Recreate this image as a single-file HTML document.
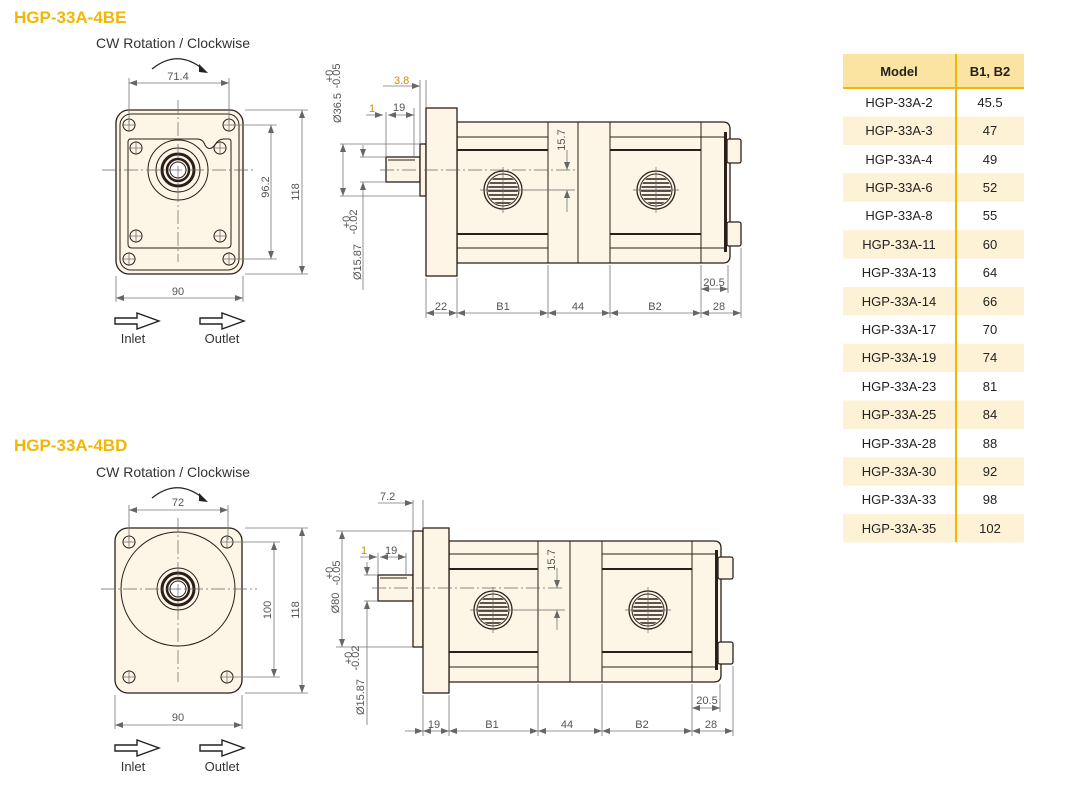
<!DOCTYPE html>
<html><head><meta charset="utf-8"><style>
html,body{margin:0;padding:0;background:#fff}
svg{display:block}
text{font-family:"Liberation Sans",sans-serif}
.d{fill:#555;font-size:11px}
.o{fill:#d08a00;font-size:11px}
.ln{stroke:#777;stroke-width:.8;fill:none}
.k{stroke:#2a1f1a;stroke-width:1.3;fill:#fdf6e6}
.kl{stroke:#2a1f1a;stroke-width:1;fill:none}
.c{stroke:#666;stroke-width:.7;fill:none}
.cd{stroke:#666;stroke-width:.7;fill:none;stroke-dasharray:14 3 2 3}
.tt{fill:#f2b705;font-weight:bold;font-size:17px}
</style></head><body>
<svg width="1068" height="792" viewBox="0 0 1068 792" xmlns="http://www.w3.org/2000/svg">
<defs>
<marker id="a" markerWidth="8" markerHeight="6" refX="8" refY="3" orient="auto-start-reverse" markerUnits="userSpaceOnUse"><path d="M0,0 L8,3 L0,6 z" fill="#666"/></marker>
<clipPath id="pc"><circle r="15"/></clipPath>
<g id="port">
<circle r="19" fill="#fdf6e6" stroke="#2a1f1a" stroke-width="1.3"/>
<circle r="16" fill="none" stroke="#2a1f1a" stroke-width="1"/>
<g clip-path="url(#pc)" stroke="#2a1f1a" stroke-width="1.4">
<line x1="-16" x2="16" y1="-11" y2="-11"/><line x1="-16" x2="16" y1="-7" y2="-7"/><line x1="-16" x2="16" y1="-3" y2="-3"/><line x1="-16" x2="16" y1="1" y2="1"/><line x1="-16" x2="16" y1="5" y2="5"/><line x1="-16" x2="16" y1="9" y2="9"/><line x1="-16" x2="16" y1="13" y2="13"/>
</g>
<line x1="-23" x2="23" class="c"/><line y1="-23" y2="23" class="c"/>
</g>
<g id="hole"><circle r="6" class="kl" fill="#fdf6e6"/><line x1="-7" x2="7" class="c"/><line y1="-7" y2="7" class="c"/></g>
<g id="arr"><path d="M0,-3 L22,-3 L22,-8 L44,0 L22,8 L22,3 L0,3 z" fill="#fff" stroke="#222" stroke-width="1.4"/></g>
</defs>

<text x="14" y="23" class="tt">HGP-33A-4BE</text>
<text x="14" y="451" class="tt">HGP-33A-4BD</text>
<text x="96" y="48" font-size="14" fill="#333">CW Rotation / Clockwise</text>
<text x="96" y="477" font-size="14" fill="#333">CW Rotation / Clockwise</text>
<path d="M152,69 Q178,48 204,70" fill="none" stroke="#222" stroke-width="1.3"/><path d="M199,64 L208,73 L199,72z" fill="#222"/>
<path d="M152,498 Q178,477 204,499" fill="none" stroke="#222" stroke-width="1.3"/><path d="M199,493 L208,502 L199,501z" fill="#222"/>

<!-- TOP FRONT -->
<rect x="116" y="110" width="127" height="164" rx="13" class="k"/>
<rect x="120" y="114" width="119" height="156" rx="11" class="kl"/>
<path d="M129,139 L197,139 Q203,139 205,145 Q209,152 215,145 Q218,139 224,139 L229,139 Q231,139 231,142 L231,244 Q231,248 227,248 L132,248 Q128,248 128,244 L128,142 Q128,139 131,139 z" class="kl"/>
<circle cx="178" cy="170" r="30" class="kl"/>
<circle cx="178" cy="170" r="22" class="kl" fill="#fdf6e6"/>
<circle cx="178" cy="170" r="16" fill="none" stroke="#2a1f1a" stroke-width="3"/>
<circle cx="178" cy="170" r="11" fill="none" stroke="#2a1f1a" stroke-width="2.5"/>
<circle cx="178" cy="170" r="8" fill="#fff" stroke="#2a1f1a" stroke-width="1"/>
<use href="#hole" x="129" y="125"/><use href="#hole" x="229" y="125"/><use href="#hole" x="129" y="259"/><use href="#hole" x="229" y="259"/>
<use href="#hole" x="136" y="148"/><use href="#hole" x="220" y="148"/><use href="#hole" x="136" y="236"/><use href="#hole" x="220" y="236"/>
<line x1="102" y1="170" x2="256" y2="170" class="cd"/><line x1="178" y1="100" x2="178" y2="262" class="cd"/>
<line x1="129" y1="78" x2="129" y2="123" class="ln"/><line x1="229" y1="78" x2="229" y2="123" class="ln"/>
<line x1="129" y1="83" x2="229" y2="83" class="ln" marker-start="url(#a)" marker-end="url(#a)"/>
<text x="178" y="80" class="d" text-anchor="middle">71.4</text>
<line x1="231" y1="125" x2="277" y2="125" class="ln"/><line x1="231" y1="259" x2="277" y2="259" class="ln"/>
<line x1="271" y1="125" x2="271" y2="259" class="ln" marker-start="url(#a)" marker-end="url(#a)"/>
<text transform="translate(269,187) rotate(-90)" class="d" text-anchor="middle">96.2</text>
<line x1="245" y1="110" x2="308" y2="110" class="ln"/><line x1="245" y1="274" x2="308" y2="274" class="ln"/>
<line x1="302" y1="110" x2="302" y2="274" class="ln" marker-start="url(#a)" marker-end="url(#a)"/>
<text transform="translate(299,192) rotate(-90)" class="d" text-anchor="middle">118</text>
<line x1="116" y1="276" x2="116" y2="302" class="ln"/><line x1="243" y1="276" x2="243" y2="302" class="ln"/>
<line x1="116" y1="298" x2="243" y2="298" class="ln" marker-start="url(#a)" marker-end="url(#a)"/>
<text x="178" y="295" class="d" text-anchor="middle">90</text>
<use href="#arr" x="115" y="321"/><use href="#arr" x="200" y="321"/>
<text x="133" y="343" font-size="13" fill="#333" text-anchor="middle">Inlet</text>
<text x="222" y="343" font-size="13" fill="#333" text-anchor="middle">Outlet</text>

<!-- TOP SIDE -->
<rect x="386" y="157" width="34" height="25" class="k"/>
<line x1="388" y1="160" x2="415" y2="160" class="kl"/>
<rect x="420" y="144" width="6" height="52" class="k"/>
<path d="M457,122 L723,122 Q730,122 730,129 L730,256 Q730,263 723,263 L457,263 z" class="k"/>
<rect x="426" y="108" width="31" height="168" class="k" stroke-width="1.6"/>
<g class="kl">
<line x1="548" y1="122" x2="548" y2="263"/><line x1="578" y1="122" x2="578" y2="263"/><line x1="610" y1="122" x2="610" y2="263"/><line x1="701" y1="122" x2="701" y2="263"/>
<line x1="457" y1="137" x2="548" y2="137"/><line x1="457" y1="150" x2="548" y2="150" stroke-width="2"/><line x1="457" y1="234" x2="548" y2="234" stroke-width="2"/><line x1="457" y1="248" x2="548" y2="248"/>
<line x1="610" y1="137" x2="701" y2="137"/><line x1="610" y1="150" x2="701" y2="150" stroke-width="2"/><line x1="610" y1="234" x2="701" y2="234" stroke-width="2"/><line x1="610" y1="248" x2="701" y2="248"/>
<line x1="701" y1="137" x2="726" y2="137"/><line x1="701" y1="248" x2="726" y2="248"/>
</g>
<rect x="724" y="132" width="3" height="120" fill="#2a1f1a"/>
<rect x="727" y="139" width="14" height="24" rx="2" class="k"/><rect x="727" y="222" width="14" height="24" rx="2" class="k"/>
<line x1="380" y1="170" x2="575" y2="170" class="cd"/>
<use href="#port" x="503" y="190"/><use href="#port" x="656" y="190"/>
<line x1="525" y1="190" x2="575" y2="190" class="c"/>
<line x1="567" y1="150" x2="567" y2="170" class="ln" marker-end="url(#a)"/><line x1="567" y1="212" x2="567" y2="190" class="ln" marker-end="url(#a)"/>
<text transform="translate(565,140) rotate(-90)" class="d" text-anchor="middle">15.7</text>
<line x1="420" y1="80" x2="420" y2="144" class="ln"/><line x1="426" y1="80" x2="426" y2="108" class="ln"/>
<line x1="383" y1="86" x2="420" y2="86" class="ln" marker-end="url(#a)"/>
<text x="394" y="84" class="o">3.8</text>
<line x1="386" y1="112" x2="386" y2="157" class="ln"/><line x1="414" y1="108" x2="414" y2="157" class="ln"/>
<line x1="366" y1="115" x2="383" y2="115" class="ln" marker-end="url(#a)"/><line x1="388" y1="115" x2="414" y2="115" class="ln" marker-start="url(#a)" marker-end="url(#a)"/>
<text x="369" y="112" class="o">1</text><text x="393" y="111" class="d" fill="#55a">19</text>
<line x1="340" y1="144" x2="420" y2="144" class="ln"/><line x1="340" y1="196" x2="420" y2="196" class="ln"/>
<line x1="343" y1="144" x2="343" y2="196" class="ln" marker-start="url(#a)" marker-end="url(#a)"/>
<text transform="translate(341,108) rotate(-90)" class="d" font-size="12" text-anchor="middle">Ø36.5</text>
<text transform="translate(333,76) rotate(-90)" class="d" font-size="8" text-anchor="middle">+0</text>
<text transform="translate(340,76) rotate(-90)" class="d" font-size="8" text-anchor="middle">-0.05</text>
<line x1="360" y1="157" x2="386" y2="157" class="ln"/><line x1="360" y1="182" x2="386" y2="182" class="ln"/>
<line x1="363" y1="145" x2="363" y2="157" class="ln" marker-end="url(#a)"/><line x1="363" y1="290" x2="363" y2="182" class="ln" marker-end="url(#a)"/>
<text transform="translate(361,262) rotate(-90)" class="d" font-size="12" text-anchor="middle">Ø15.87</text>
<text transform="translate(350,222) rotate(-90)" class="d" font-size="8" text-anchor="middle">+0</text>
<text transform="translate(357,222) rotate(-90)" class="d" font-size="8" text-anchor="middle">-0.02</text>
<g class="ln"><line x1="426" y1="278" x2="426" y2="318"/><line x1="457" y1="278" x2="457" y2="318"/><line x1="548" y1="265" x2="548" y2="318"/><line x1="610" y1="265" x2="610" y2="318"/><line x1="701" y1="265" x2="701" y2="318"/><line x1="741" y1="248" x2="741" y2="318"/><line x1="728" y1="265" x2="728" y2="293"/></g>
<g class="ln" marker-start="url(#a)" marker-end="url(#a)"><line x1="426" y1="313" x2="457" y2="313"/><line x1="457" y1="313" x2="548" y2="313"/><line x1="548" y1="313" x2="610" y2="313"/><line x1="610" y1="313" x2="701" y2="313"/><line x1="701" y1="313" x2="741" y2="313"/><line x1="701" y1="289" x2="728" y2="289"/></g>
<text x="441" y="310" class="d" text-anchor="middle">22</text><text x="503" y="310" class="d" text-anchor="middle">B1</text><text x="578" y="310" class="d" text-anchor="middle">44</text><text x="655" y="310" class="d" text-anchor="middle">B2</text><text x="719" y="310" class="d" text-anchor="middle">28</text><text x="714" y="286" class="d" text-anchor="middle">20.5</text>

<!-- BOTTOM FRONT -->
<rect x="115" y="528" width="127" height="165" rx="13" class="k"/>
<circle cx="178" cy="589" r="57" class="kl"/>
<circle cx="178" cy="589" r="21" class="kl"/>
<circle cx="178" cy="589" r="16" fill="none" stroke="#2a1f1a" stroke-width="3"/>
<circle cx="178" cy="589" r="11" fill="none" stroke="#2a1f1a" stroke-width="2.5"/>
<circle cx="178" cy="589" r="8" fill="#fff" stroke="#2a1f1a" stroke-width="1"/>
<use href="#hole" x="129" y="542"/><use href="#hole" x="227" y="542"/><use href="#hole" x="129" y="677"/><use href="#hole" x="227" y="677"/>
<line x1="101" y1="589" x2="257" y2="589" class="cd"/><line x1="178" y1="518" x2="178" y2="682" class="cd"/>
<line x1="129" y1="505" x2="129" y2="540" class="ln"/><line x1="228" y1="505" x2="228" y2="540" class="ln"/>
<line x1="129" y1="510" x2="228" y2="510" class="ln" marker-start="url(#a)" marker-end="url(#a)"/>
<text x="178" y="506" class="d" text-anchor="middle">72</text>
<line x1="232" y1="542" x2="280" y2="542" class="ln"/><line x1="232" y1="677" x2="280" y2="677" class="ln"/>
<line x1="274" y1="542" x2="274" y2="677" class="ln" marker-start="url(#a)" marker-end="url(#a)"/>
<text transform="translate(271,610) rotate(-90)" class="d" text-anchor="middle">100</text>
<line x1="245" y1="528" x2="308" y2="528" class="ln"/><line x1="245" y1="693" x2="308" y2="693" class="ln"/>
<line x1="302" y1="528" x2="302" y2="693" class="ln" marker-start="url(#a)" marker-end="url(#a)"/>
<text transform="translate(299,610) rotate(-90)" class="d" text-anchor="middle">118</text>
<line x1="115" y1="695" x2="115" y2="729" class="ln"/><line x1="242" y1="695" x2="242" y2="729" class="ln"/>
<line x1="115" y1="725" x2="242" y2="725" class="ln" marker-start="url(#a)" marker-end="url(#a)"/>
<text x="178" y="721" class="d" text-anchor="middle">90</text>
<use href="#arr" x="115" y="748"/><use href="#arr" x="200" y="748"/>
<text x="133" y="771" font-size="13" fill="#333" text-anchor="middle">Inlet</text>
<text x="222" y="771" font-size="13" fill="#333" text-anchor="middle">Outlet</text>

<!-- BOTTOM SIDE -->
<rect x="378" y="575" width="35" height="26" class="k"/>
<line x1="380" y1="578" x2="407" y2="578" class="kl"/>
<rect x="413" y="531" width="10" height="116" class="k"/>
<path d="M449,541 L714,541 Q721,541 721,548 L721,675 Q721,682 714,682 L449,682 z" class="k"/>
<rect x="423" y="528" width="26" height="165" class="k" stroke-width="1.6"/>
<g class="kl">
<line x1="538" y1="541" x2="538" y2="682"/><line x1="570" y1="541" x2="570" y2="682"/><line x1="602" y1="541" x2="602" y2="682"/><line x1="692" y1="541" x2="692" y2="682"/>
<line x1="449" y1="554" x2="538" y2="554"/><line x1="449" y1="569" x2="538" y2="569" stroke-width="2"/><line x1="449" y1="652" x2="538" y2="652" stroke-width="2"/><line x1="449" y1="667" x2="538" y2="667"/>
<line x1="602" y1="554" x2="692" y2="554"/><line x1="602" y1="569" x2="692" y2="569" stroke-width="2"/><line x1="602" y1="652" x2="692" y2="652" stroke-width="2"/><line x1="602" y1="667" x2="692" y2="667"/>
<line x1="692" y1="554" x2="716" y2="554"/><line x1="692" y1="667" x2="716" y2="667"/>
</g>
<rect x="715" y="550" width="3" height="120" fill="#2a1f1a"/>
<rect x="718" y="557" width="15" height="22" rx="2" class="k"/><rect x="718" y="642" width="15" height="22" rx="2" class="k"/>
<line x1="372" y1="588" x2="565" y2="588" class="cd"/>
<use href="#port" x="493" y="610"/><use href="#port" x="648" y="610"/>
<line x1="515" y1="610" x2="565" y2="610" class="c"/>
<line x1="557" y1="568" x2="557" y2="588" class="ln" marker-end="url(#a)"/><line x1="557" y1="630" x2="557" y2="610" class="ln" marker-end="url(#a)"/>
<text transform="translate(555,560) rotate(-90)" class="d" text-anchor="middle">15.7</text>
<line x1="413" y1="500" x2="413" y2="531" class="ln"/><line x1="423" y1="500" x2="423" y2="528" class="ln"/>
<line x1="378" y1="503" x2="413" y2="503" class="ln" marker-end="url(#a)"/>
<text x="380" y="500" class="d">7.2</text>
<line x1="378" y1="553" x2="378" y2="575" class="ln"/><line x1="406" y1="553" x2="406" y2="575" class="ln"/>
<line x1="360" y1="557" x2="377" y2="557" class="ln" marker-end="url(#a)"/><line x1="380" y1="557" x2="406" y2="557" class="ln" marker-start="url(#a)" marker-end="url(#a)"/>
<text x="361" y="554" class="o">1</text><text x="385" y="554" class="d" fill="#55a">19</text>
<line x1="336" y1="531" x2="413" y2="531" class="ln"/><line x1="336" y1="647" x2="413" y2="647" class="ln"/>
<line x1="342" y1="531" x2="342" y2="647" class="ln" marker-start="url(#a)" marker-end="url(#a)"/>
<text transform="translate(339,603) rotate(-90)" class="d" font-size="12" text-anchor="middle">Ø80</text>
<text transform="translate(333,573) rotate(-90)" class="d" font-size="8" text-anchor="middle">+0</text>
<text transform="translate(340,573) rotate(-90)" class="d" font-size="8" text-anchor="middle">-0.05</text>
<line x1="364" y1="575" x2="378" y2="575" class="ln"/><line x1="364" y1="601" x2="378" y2="601" class="ln"/>
<line x1="367" y1="562" x2="367" y2="575" class="ln" marker-end="url(#a)"/><line x1="367" y1="725" x2="367" y2="601" class="ln" marker-end="url(#a)"/>
<text transform="translate(364,697) rotate(-90)" class="d" font-size="12" text-anchor="middle">Ø15.87</text>
<text transform="translate(352,658) rotate(-90)" class="d" font-size="8" text-anchor="middle">+0</text>
<text transform="translate(359,658) rotate(-90)" class="d" font-size="8" text-anchor="middle">-0.02</text>
<g class="ln"><line x1="423" y1="695" x2="423" y2="736"/><line x1="449" y1="695" x2="449" y2="736"/><line x1="538" y1="684" x2="538" y2="736"/><line x1="602" y1="684" x2="602" y2="736"/><line x1="692" y1="684" x2="692" y2="736"/><line x1="733" y1="666" x2="733" y2="736"/><line x1="720" y1="684" x2="720" y2="712"/></g>
<g class="ln" marker-start="url(#a)" marker-end="url(#a)"><line x1="405" y1="731" x2="423" y2="731" marker-start="none"/><line x1="423" y1="731" x2="449" y2="731"/><line x1="449" y1="731" x2="538" y2="731"/><line x1="538" y1="731" x2="602" y2="731"/><line x1="602" y1="731" x2="692" y2="731"/><line x1="692" y1="731" x2="733" y2="731"/><line x1="692" y1="708" x2="720" y2="708"/></g>
<text x="434" y="728" class="d" text-anchor="middle">19</text><text x="492" y="728" class="d" text-anchor="middle">B1</text><text x="567" y="728" class="d" text-anchor="middle">44</text><text x="642" y="728" class="d" text-anchor="middle">B2</text><text x="711" y="728" class="d" text-anchor="middle">28</text><text x="707" y="704" class="d" text-anchor="middle">20.5</text>

<!-- TABLE -->
<rect x="843" y="54" width="181" height="34" fill="#fbe3a1"/>
<g fill="#fdf1d6">
<rect x="843" y="116.5" width="181" height="28.4"/><rect x="843" y="173.3" width="181" height="28.4"/><rect x="843" y="230.1" width="181" height="28.4"/><rect x="843" y="286.9" width="181" height="28.4"/><rect x="843" y="343.7" width="181" height="28.4"/><rect x="843" y="400.5" width="181" height="28.4"/><rect x="843" y="457.3" width="181" height="28.4"/><rect x="843" y="514.1" width="181" height="28.4"/>
</g>
<line x1="843" y1="88" x2="1024" y2="88" stroke="#f2b705" stroke-width="2"/>
<line x1="956" y1="54" x2="956" y2="542" stroke="#f2b705" stroke-width="2"/>
<text x="899" y="76" font-size="13" font-weight="bold" fill="#222" text-anchor="middle">Model</text>
<text x="990" y="76" font-size="13" font-weight="bold" fill="#222" text-anchor="middle">B1, B2</text>
<g font-size="13" fill="#222" text-anchor="middle">
<text x="899" y="107">HGP-33A-2</text><text x="990" y="107">45.5</text>
<text x="899" y="135">HGP-33A-3</text><text x="990" y="135">47</text>
<text x="899" y="164">HGP-33A-4</text><text x="990" y="164">49</text>
<text x="899" y="192">HGP-33A-6</text><text x="990" y="192">52</text>
<text x="899" y="220">HGP-33A-8</text><text x="990" y="220">55</text>
<text x="899" y="249">HGP-33A-11</text><text x="990" y="249">60</text>
<text x="899" y="277">HGP-33A-13</text><text x="990" y="277">64</text>
<text x="899" y="306">HGP-33A-14</text><text x="990" y="306">66</text>
<text x="899" y="334">HGP-33A-17</text><text x="990" y="334">70</text>
<text x="899" y="362">HGP-33A-19</text><text x="990" y="362">74</text>
<text x="899" y="391">HGP-33A-23</text><text x="990" y="391">81</text>
<text x="899" y="419">HGP-33A-25</text><text x="990" y="419">84</text>
<text x="899" y="448">HGP-33A-28</text><text x="990" y="448">88</text>
<text x="899" y="476">HGP-33A-30</text><text x="990" y="476">92</text>
<text x="899" y="504">HGP-33A-33</text><text x="990" y="504">98</text>
<text x="899" y="533">HGP-33A-35</text><text x="990" y="533">102</text>
</g>
</svg>
</body></html>
